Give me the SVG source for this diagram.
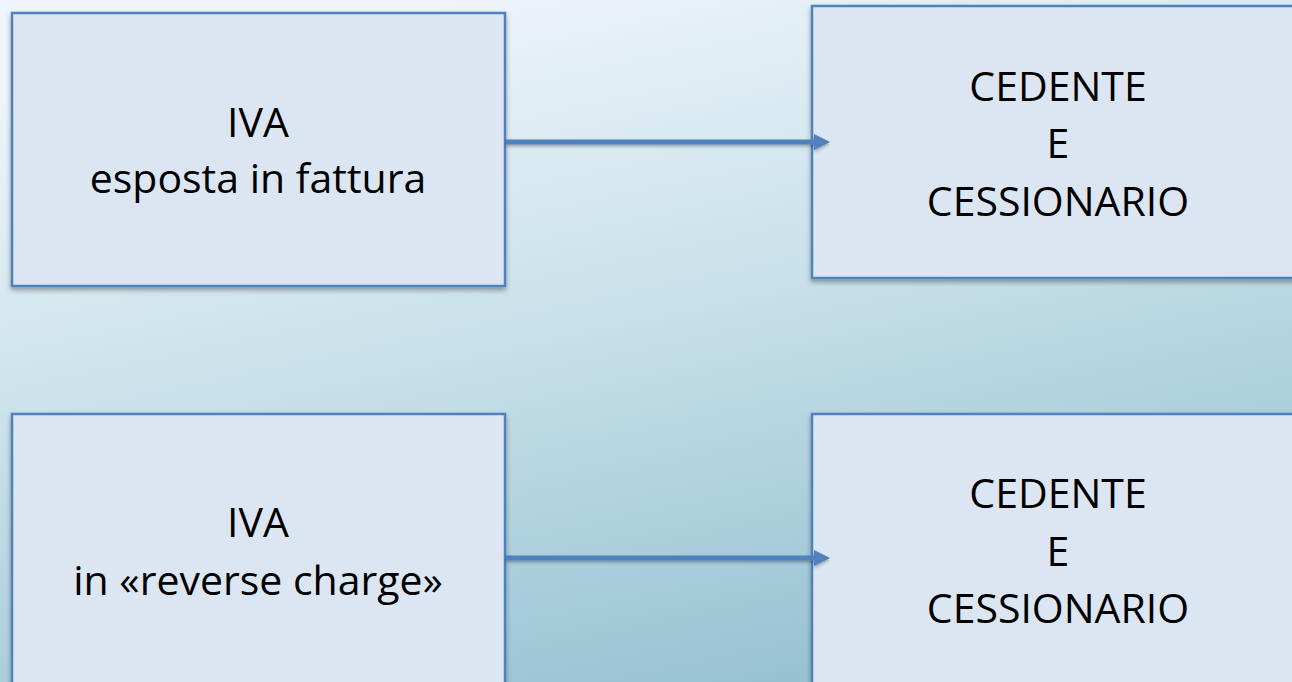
<svg xmlns="http://www.w3.org/2000/svg" width="1292" height="682" viewBox="0 0 1292 682">
<defs>
<linearGradient id="bg" x1="0.35" y1="0" x2="0.75" y2="1">
<stop offset="0" stop-color="#edf4fa"/>
<stop offset="0.45" stop-color="#c7e0e9"/>
<stop offset="1" stop-color="#93bfd0"/>
</linearGradient>
<filter id="sh" x="-5%" y="-5%" width="110%" height="115%">
<feDropShadow dx="0" dy="3" stdDeviation="2.5" flood-color="#000" flood-opacity="0.35"/>
</filter>
<filter id="ash" x="-5%" y="-50%" width="110%" height="200%">
<feDropShadow dx="0" dy="2" stdDeviation="1.5" flood-color="#000" flood-opacity="0.3"/>
</filter>
<marker id="ah" viewBox="0 0 16 16" refX="0" refY="8" markerWidth="16" markerHeight="16" markerUnits="userSpaceOnUse" orient="auto">
<polygon points="0,0 16,8 0,16" fill="#4f81bd"/>
</marker>
</defs>
<style>
.box{fill:#dce6f2;stroke:#4f81bd;stroke-width:2.5}
.t{font-family:"Open Sans","Noto Sans",sans-serif;font-size:41px;fill:#000;text-anchor:middle}
.c{stroke:#4f81bd;stroke-width:5;fill:none}
</style>
<rect width="1292" height="682" fill="url(#bg)"/>
<g id="n1">
<rect class="box" x="12" y="13" width="493" height="273" filter="url(#sh)"/>
<text class="t" x="258" y="137">IVA</text>
<text class="t" x="258" y="193">esposta in fattura</text>
</g>
<g id="n2">
<rect class="box" x="812" y="6" width="500" height="272" filter="url(#sh)"/>
<text class="t" x="1058" y="101">CEDENTE</text>
<text class="t" x="1058" y="158">E</text>
<text class="t" x="1058" y="216">CESSIONARIO</text>
</g>
<g id="n3">
<rect class="box" x="12" y="414" width="493" height="300" filter="url(#sh)"/>
<text class="t" x="258" y="537">IVA</text>
<text class="t" x="258" y="595">in «reverse charge»</text>
</g>
<g id="n4">
<rect class="box" x="812" y="414" width="500" height="300" filter="url(#sh)"/>
<text class="t" x="1058" y="508">CEDENTE</text>
<text class="t" x="1058" y="566">E</text>
<text class="t" x="1058" y="623">CESSIONARIO</text>
</g>
<g id="connectors" filter="url(#ash)">
<line class="c" x1="506" y1="142" x2="814" y2="142" marker-end="url(#ah)"/>
<line class="c" x1="506" y1="558" x2="814" y2="558" marker-end="url(#ah)"/>
</g>
</svg>
